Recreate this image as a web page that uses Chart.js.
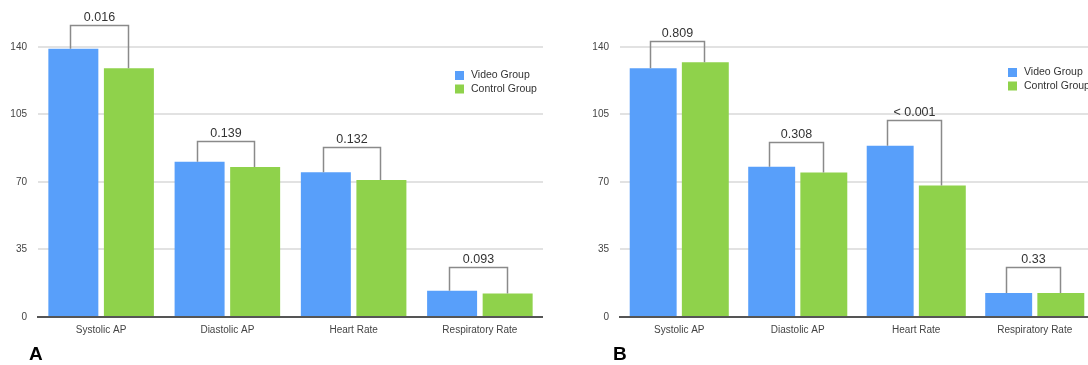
<!DOCTYPE html>
<html>
<head>
<meta charset="utf-8">
<script src="https://cdn.jsdelivr.net/npm/chart.js@4/dist/chart.umd.min.js"></script>
<style>
  html, body { margin: 0; padding: 0; width: 1088px; height: 365px; overflow: hidden; background: #fff; }
  #wrap { position: relative; width: 1088px; height: 365px; overflow: hidden; }
  canvas { position: absolute; top: 0; }
  #cA { left: 0; }
  #cB { left: 560px; }
  .panel { position: absolute; top: 343px; font: bold 19px "Liberation Sans", Arial, sans-serif; color: #000; }
</style>
</head>
<body>
<div id="wrap">
  <canvas id="cA" width="543" height="365"></canvas>
  <canvas id="cB" width="534" height="365"></canvas>
  <div class="panel" style="left:29px">A</div>
  <div class="panel" style="left:613px">B</div>
</div>
<script>
// ---- data ----
const categories = ['Systolic AP', 'Diastolic AP', 'Heart Rate', 'Respiratory Rate'];
const seriesNames = ['Video Group', 'Control Group'];
const videoA = [139, 80.5, 75, 13.6];
const controlA = [129, 77.7, 71, 12.2];
const bracketA = [151.6, 91, 88, 26];
const pValuesA = ['0.016', '0.139', '0.132', '0.093'];
const videoB = [129, 77.9, 88.8, 12.4];
const controlB = [132, 74.9, 68.2, 12.4];
const bracketB = [143.3, 90.7, 101.9, 25.9];
const pValuesB = ['0.809', '0.308', '< 0.001', '0.33'];
const yTicks = [0, 35, 70, 105, 140];

const BLUE = '#589ffa';
const GREEN = '#8fd24b';
const FONT = '"Liberation Sans", Arial, Helvetica, sans-serif';

const bracketPlugin = {
  id: 'brackets',
  afterDatasetsDraw(chart, args, opts) {
    const ctx = chart.ctx;
    const ys = chart.scales.y;
    const m0 = chart.getDatasetMeta(0).data;
    const m1 = chart.getDatasetMeta(1).data;
    ctx.save();
    ctx.strokeStyle = '#8a8a8a';
    ctx.lineWidth = 1.5;
    ctx.fillStyle = '#333';
    ctx.font = '12.5px ' + FONT;
    ctx.textAlign = 'center';
    ctx.textBaseline = 'bottom';
    opts.heights.forEach((h, j) => {
      const top = Math.round(ys.getPixelForValue(h)) + 0.5;
      const x0 = Math.round(m0[j].x) - 2.5;
      const x1 = Math.round(m1[j].x) - 0.5;
      ctx.beginPath();
      ctx.moveTo(x0, m0[j].y);
      ctx.lineTo(x0, top);
      ctx.lineTo(x1, top);
      ctx.lineTo(x1, m1[j].y);
      ctx.stroke();
      ctx.fillText(opts.labels[j], (x0 + x1) / 2, top - 2);
    });
    ctx.restore();
  }
};

const legendPlugin = {
  id: 'boxLegend',
  afterDraw(chart, args, opts) {
    const ctx = chart.ctx;
    ctx.save();
    ctx.font = '10.5px ' + FONT;
    ctx.textBaseline = 'middle';
    ctx.textAlign = 'left';
    chart.data.datasets.forEach((ds, i) => {
      const x = chart.chartArea.right - opts.dx;
      const y = opts.y + i * 13.5;
      ctx.fillStyle = ds.backgroundColor;
      ctx.fillRect(x, y, 9, 9);
      ctx.fillStyle = '#333';
      ctx.fillText(ds.label, x + 16, y + 4.5);
    });
    ctx.restore();
  }
};

function makeChart(id, video, control, heights, labels, yWidth, legendPos) {
  return new Chart(document.getElementById(id), {
    type: 'bar',
    data: {
      labels: categories,
      datasets: [
        { label: seriesNames[0], data: video, backgroundColor: BLUE },
        { label: seriesNames[1], data: control, backgroundColor: GREEN }
      ]
    },
    options: {
      responsive: false,
      animation: false,
      devicePixelRatio: 1,
      layout: { padding: { top: 0, right: 0, bottom: 0, left: 0 } },
      datasets: { bar: { categoryPercentage: 0.88, barPercentage: 0.9 } },
      plugins: {
        legend: { display: false },
        tooltip: { enabled: false },
        brackets: { heights: heights, labels: labels },
        boxLegend: legendPos
      },
      scales: {
        x: {
          grid: { display: false, drawTicks: false },
          border: { display: true, color: '#555', width: 2 },
          ticks: { color: '#444', font: { family: FONT, size: 10 }, padding: 7, maxRotation: 0 },
          afterFit(s) { s.height = 48; }
        },
        y: {
          min: 0, max: 155.5,
          grid: { color: '#e2e2e2', lineWidth: 2, drawTicks: false },
          border: { display: false },
          ticks: { stepSize: 35, color: '#444', font: { family: FONT, size: 10 }, padding: 11 },
          afterBuildTicks(s) { s.ticks = yTicks.map(v => ({ value: v })); },
          afterFit(s) { s.width = yWidth; }
        }
      }
    },
    plugins: [bracketPlugin, legendPlugin]
  });
}

makeChart('cA', videoA, controlA, bracketA, pValuesA, 38, { dx: 88, y: 71 });
makeChart('cB', videoB, controlB, bracketB, pValuesB, 60, { dx: 86, y: 68 });
</script>
</body>
</html>
